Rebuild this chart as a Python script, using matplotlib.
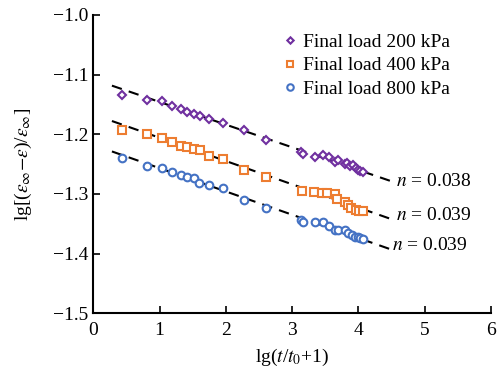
import numpy as np
import matplotlib
matplotlib.use('Agg')
import matplotlib.pyplot as plt
from matplotlib.ticker import FuncFormatter

plt.rcParams['font.family'] = ['Liberation Serif', 'DejaVu Serif']
plt.rcParams['mathtext.fontset'] = 'stix'

# Data
x200 = [0.43, 0.81, 1.03, 1.19, 1.32, 1.42, 1.52, 1.61, 1.74, 1.96, 2.27, 2.60,
        3.13, 3.16, 3.34, 3.47, 3.56, 3.65, 3.69, 3.79, 3.82, 3.88, 3.92, 3.96,
        3.99, 4.02, 4.07]
y200 = [-1.135, -1.143, -1.145, -1.153, -1.158, -1.163, -1.167, -1.169, -1.175,
        -1.182, -1.193, -1.210, -1.230, -1.233, -1.238, -1.235, -1.238, -1.246,
        -1.243, -1.250, -1.248, -1.253, -1.252, -1.257, -1.260, -1.261, -1.263]

x400 = [0.43, 0.81, 1.03, 1.19, 1.32, 1.42, 1.52, 1.61, 1.74, 1.96, 2.27, 2.60,
        3.15, 3.33, 3.45, 3.53, 3.64, 3.67, 3.79, 3.84, 3.89, 3.96, 4.01, 4.07]
y400 = [-1.193, -1.199, -1.206, -1.213, -1.220, -1.221, -1.224, -1.227, -1.237,
        -1.241, -1.260, -1.272, -1.295, -1.297, -1.298, -1.298, -1.301, -1.309,
        -1.313, -1.318, -1.323, -1.327, -1.329, -1.329]

x800 = [0.43, 0.81, 1.03, 1.19, 1.32, 1.42, 1.52, 1.60, 1.74, 1.96, 2.27, 2.60,
        3.13, 3.16, 3.34, 3.47, 3.56, 3.65, 3.69, 3.79, 3.85, 3.90, 3.95, 3.99,
        4.02, 4.07]
y800 = [-1.240, -1.253, -1.257, -1.263, -1.268, -1.272, -1.274, -1.281, -1.286,
        -1.291, -1.310, -1.323, -1.344, -1.347, -1.347, -1.348, -1.354, -1.361,
        -1.360, -1.361, -1.366, -1.369, -1.372, -1.373, -1.374, -1.375]

# fitted lines: intercept, slope (n), x-range
fits = [(-1.108, -0.038, 0.28, 4.52),
        (-1.167, -0.039, 0.28, 4.52),
        (-1.218, -0.039, 0.28, 4.47)]
n_labels = ['$n$ = 0.038', '$n$ = 0.039', '$n$ = 0.039']
n_pos = [(4.56, -1.279), (4.56, -1.336), (4.51, -1.386)]

series = [
    (x200, y200, 'D', 3.8, '#7030A0', 'Final load 200 kPa'),
    (x400, y400, 's', 5.5, '#ED7D31', 'Final load 400 kPa'),
    (x800, y800, 'o', 5.5, '#4472C4', 'Final load 800 kPa'),
]

FS = 14

fig = plt.figure(figsize=(5.02, 3.81), dpi=100)
ax = fig.add_axes([0.186, 0.178, 0.792, 0.783])

for (a, b, x0, x1) in fits:
    xs = np.array([x0, x1])
    ax.plot(xs, a + b * xs, color='black', lw=1.5, ls=(0, (5, 3.5)), zorder=1)

for xs, ys, mk, ms, col, lab in series:
    ax.plot(xs, ys, ls='none', marker=mk, ms=ms, mfc='white', mec=col,
            mew=1.5, label=lab, zorder=2)

for txt, (tx, ty) in zip(n_labels, n_pos):
    ax.text(tx, ty, txt, fontsize=FS, va='center', ha='left')

ax.set_xlim(0, 6)
ax.set_ylim(-1.5, -1.0)
ax.set_xticks(range(0, 7))
ax.set_yticks(np.arange(-1.5, -0.99, 0.1))
ax.yaxis.set_major_formatter(FuncFormatter(lambda v, p: f'{v:.1f}'.replace('-', '\u2212')))
ax.spines['top'].set_visible(False)
ax.spines['right'].set_visible(False)
ax.spines['left'].set_linewidth(1.5)
ax.spines['bottom'].set_linewidth(1.5)
ax.tick_params(direction='in', length=5, width=1.2, labelsize=FS)
ax.tick_params(axis='x', pad=6)

ax.set_xlabel(r'lg($t$/$t_0$+1)', fontsize=FS, labelpad=6)
ax.set_ylabel(r'lg[($\varepsilon_\infty$$-$$\varepsilon$)/$\varepsilon_\infty$]',
              fontsize=FS, labelpad=14)

ax.legend(loc='upper left', bbox_to_anchor=(0.436, 0.985), frameon=False,
          fontsize=FS, handletextpad=0.15, labelspacing=0.32, borderaxespad=0.3,
          handlelength=1.0, markerscale=0.85)

fig.savefig('out.png', dpi=100)
